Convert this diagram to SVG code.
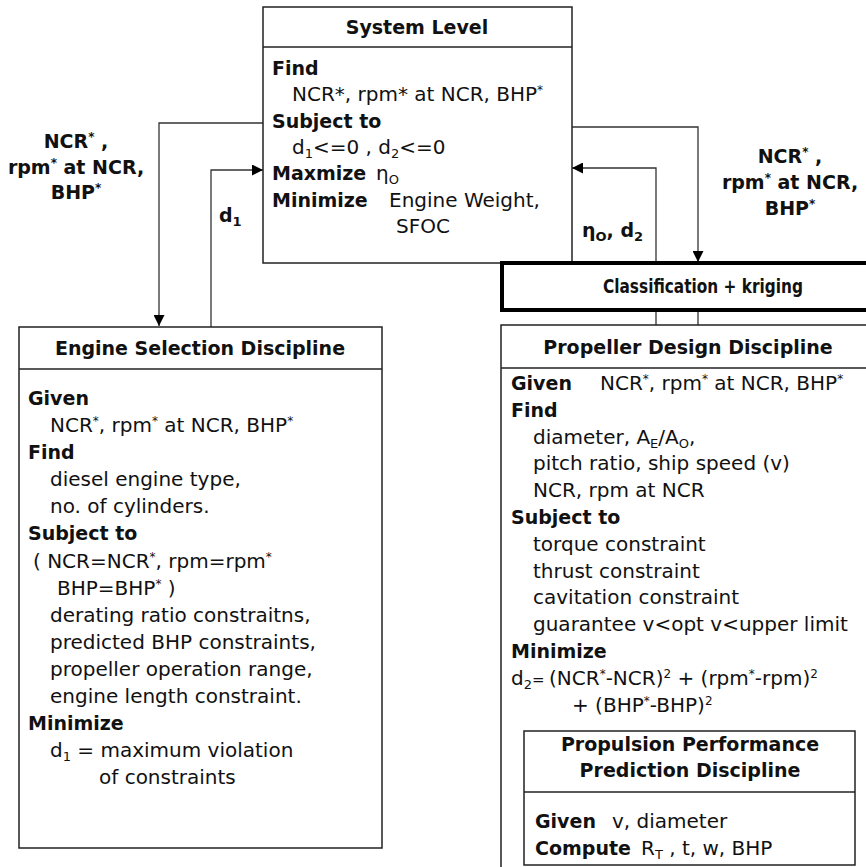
<svg xmlns="http://www.w3.org/2000/svg" width="866" height="867" viewBox="0 0 866 867">
<style>
text { font-family: "DejaVu Sans", "Liberation Sans", sans-serif; font-size: 20px; fill: #111; }
.b { font-weight: bold; font-size: 19px; }
.c { text-anchor: middle; }
.box { fill: #fff; stroke: #222; stroke-width: 1.5; }
.sep { stroke: #222; stroke-width: 1.5; }
.thick { fill: #fff; stroke: #000; stroke-width: 4; }
.wire { fill: none; stroke: #333; stroke-width: 1.3; }
.sup { font-size: 12px; }
.sub { font-size: 13px; }
</style>
<defs>
<marker id="ah" viewBox="0 0 10 10" refX="10" refY="5" markerWidth="16" markerHeight="11" markerUnits="userSpaceOnUse" orient="auto">
<path d="M0,0 L10,5 L0,10 Z" fill="#000"/>
</marker>
</defs>

<g id="connectors">
<path class="wire" d="M263,123 H159 V326" marker-end="url(#ah)"/>
<path class="wire" d="M211,327 V170 H263" marker-end="url(#ah)"/>
<path class="wire" d="M572,127 H698 V262" marker-end="url(#ah)"/>
<path class="wire" d="M656,263 V168 H572" marker-end="url(#ah)"/>
<path class="wire" d="M656,310 V325 M698,310 V325"/>
</g>

<g id="label-left">
<text class="b c" x="76" y="148">NCR<tspan class="sup" baseline-shift="super">*</tspan> ,</text>
<text class="b c" x="76" y="174">rpm<tspan class="sup" baseline-shift="super">*</tspan> at NCR,</text>
<text class="b c" x="76" y="199">BHP<tspan class="sup" baseline-shift="super">*</tspan></text>
<text class="b" x="219" y="222">d<tspan class="sub" baseline-shift="-4px">1</tspan></text>
</g>

<g id="label-right">
<text class="b c" x="790" y="163">NCR<tspan class="sup" baseline-shift="super">*</tspan> ,</text>
<text class="b c" x="790" y="189">rpm<tspan class="sup" baseline-shift="super">*</tspan> at NCR,</text>
<text class="b c" x="790" y="215">BHP<tspan class="sup" baseline-shift="super">*</tspan></text>
<text class="b" x="582" y="237">η<tspan class="sub" baseline-shift="-4px">O</tspan>, d<tspan class="sub" baseline-shift="-4px">2</tspan></text>
</g>

<g id="system-level">
<rect class="box" x="263" y="7" width="309" height="256"/>
<line class="sep" x1="263" y1="47" x2="572" y2="47"/>
<text class="b c" x="417" y="34">System Level</text>
<text class="b" x="272" y="75">Find</text>
<text x="292" y="101">NCR*, rpm* at NCR, BHP<tspan class="sup" baseline-shift="super">*</tspan></text>
<text class="b" x="272" y="128">Subject to</text>
<text x="292" y="154">d<tspan class="sub" baseline-shift="-4px">1</tspan>&lt;=0 , d<tspan class="sub" baseline-shift="-4px">2</tspan>&lt;=0</text>
<text class="b" x="272" y="180">Maxmize</text>
<text x="376" y="180">η<tspan class="sub" baseline-shift="-4px">O</tspan></text>
<text class="b" x="272" y="207">Minimize</text>
<text x="389" y="207">Engine Weight,</text>
<text x="396" y="233">SFOC</text>
</g>

<g id="engine-selection">
<rect class="box" x="19" y="327" width="363" height="521"/>
<line class="sep" x1="19" y1="369" x2="382" y2="369"/>
<text class="b c" x="200" y="355">Engine Selection Discipline</text>
<text class="b" x="28" y="405">Given</text>
<text x="50" y="432">NCR<tspan class="sup" baseline-shift="super">*</tspan>, rpm<tspan class="sup" baseline-shift="super">*</tspan> at NCR, BHP<tspan class="sup" baseline-shift="super">*</tspan></text>
<text class="b" x="28" y="459">Find</text>
<text x="50" y="486">diesel engine type,</text>
<text x="50" y="513">no. of cylinders.</text>
<text class="b" x="28" y="540">Subject to</text>
<text x="33" y="568">( NCR=NCR<tspan class="sup" baseline-shift="super">*</tspan>, rpm=rpm<tspan class="sup" baseline-shift="super">*</tspan></text>
<text x="57" y="595">BHP=BHP<tspan class="sup" baseline-shift="super">*</tspan> )</text>
<text x="50" y="622">derating ratio constraitns,</text>
<text x="50" y="649">predicted BHP constraints,</text>
<text x="50" y="676">propeller operation range,</text>
<text x="50" y="703">engine length constraint.</text>
<text class="b" x="28" y="730">Minimize</text>
<text x="50" y="757">d<tspan class="sub" baseline-shift="-4px">1</tspan> = maximum violation</text>
<text x="99" y="784">of constraints</text>
</g>

<g id="classification">
<rect class="thick" x="502" y="263" width="380" height="47"/>
<text class="b c" x="703" y="293" textLength="200" lengthAdjust="spacingAndGlyphs">Classification + kriging</text>
</g>

<g id="propeller-design">
<rect class="box" x="501" y="325" width="380" height="560"/>
<line class="sep" x1="501" y1="368" x2="881" y2="368"/>
<text class="b c" x="688" y="354">Propeller Design Discipline</text>
<text class="b" x="511" y="390">Given</text>
<text x="600" y="390">NCR<tspan class="sup" baseline-shift="super">*</tspan>, rpm<tspan class="sup" baseline-shift="super">*</tspan> at NCR, BHP<tspan class="sup" baseline-shift="super">*</tspan></text>
<text class="b" x="511" y="417">Find</text>
<text x="533" y="444">diameter, A<tspan class="sub" baseline-shift="-4px">E</tspan>/A<tspan class="sub" baseline-shift="-4px">O</tspan>,</text>
<text x="533" y="470">pitch ratio, ship speed (v)</text>
<text x="533" y="497">NCR, rpm at NCR</text>
<text class="b" x="511" y="524">Subject to</text>
<text x="533" y="551">torque constraint</text>
<text x="533" y="578">thrust constraint</text>
<text x="533" y="604">cavitation constraint</text>
<text x="533" y="631">guarantee v&lt;opt v&lt;upper limit</text>
<text class="b" x="511" y="658">Minimize</text>
<text x="511" y="685">d<tspan class="sub" baseline-shift="-4px">2</tspan><tspan style="font-size:15px">=</tspan></text>
<text x="549" y="685">(NCR<tspan class="sup" baseline-shift="super">*</tspan>-NCR)<tspan class="sup" baseline-shift="super">2</tspan> + (rpm<tspan class="sup" baseline-shift="super">*</tspan>-rpm)<tspan class="sup" baseline-shift="super">2</tspan></text>
<text x="572" y="712">+ (BHP<tspan class="sup" baseline-shift="super">*</tspan>-BHP)<tspan class="sup" baseline-shift="super">2</tspan></text>
</g>

<g id="propulsion-performance">
<rect class="box" x="524" y="731" width="331" height="134"/>
<line class="sep" x1="524" y1="792" x2="855" y2="792"/>
<text class="b c" x="690" y="751">Propulsion Performance</text>
<text class="b c" x="690" y="777">Prediction Discipline</text>
<text class="b" x="535" y="828">Given</text>
<text x="612" y="828">v, diameter</text>
<text class="b" x="535" y="855">Compute</text>
<text x="641" y="855">R<tspan class="sub" baseline-shift="-4px">T</tspan> , t, w, BHP</text>
</g>
</svg>
